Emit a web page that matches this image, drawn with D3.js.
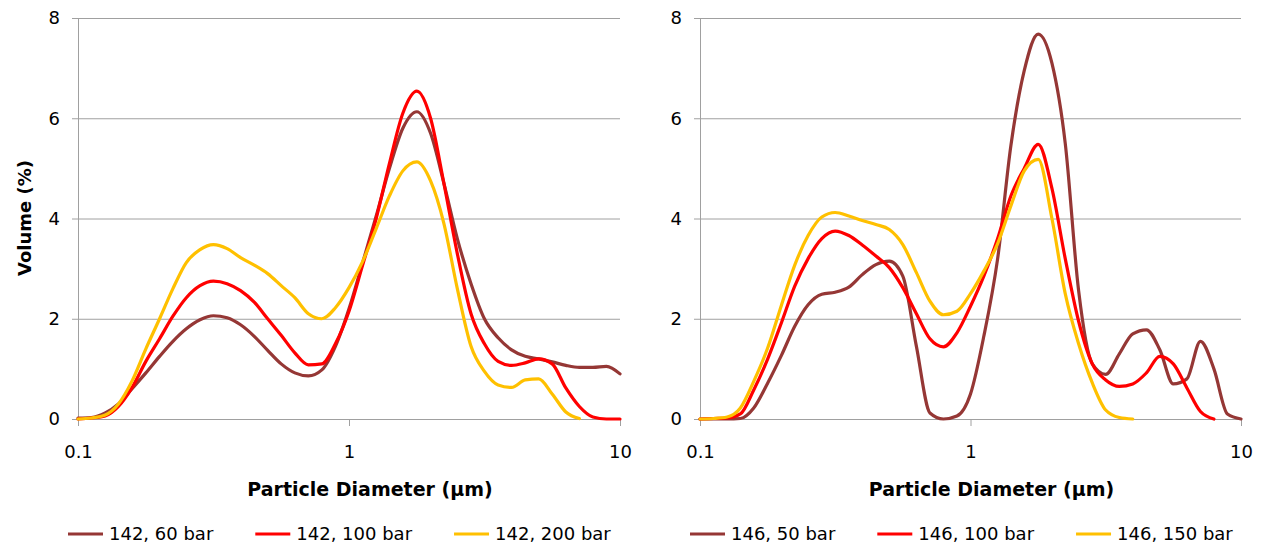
<!DOCTYPE html>
<html>
<head>
<meta charset="utf-8">
<script src="https://cdn.jsdelivr.net/npm/d3@7"></script>
<style>
    body { margin: 0; background: #fff; }
    svg text { font-family: "DejaVu Sans", sans-serif; fill: #000; }
</style>
</head>
<body>
<svg id="chart" width="1264" height="546"></svg>
<script>
// size bins (um), shared by both panels
const diameters = [0.1, 0.112, 0.126, 0.141, 0.158, 0.178, 0.2, 0.224, 0.251, 0.282,
    0.316, 0.355, 0.398, 0.447, 0.501, 0.562, 0.631, 0.708, 0.794, 0.891,
    1, 1.12, 1.26, 1.41, 1.58, 1.78, 2, 2.24, 2.51, 2.82,
    3.16, 3.55, 3.98, 4.47, 5.01, 5.62, 6.31, 7.08, 7.94, 8.91, 10];

const xTicks = [0.1, 1, 10];
const xTickLabels = ["0.1", "1", "10"];
const yTicks = [0, 2, 4, 6, 8];

// left panel: 142
const names142 = ["142, 60 bar", "142, 100 bar", "142, 200 bar"];
const vol142_60 = [0.02, 0.03, 0.12, 0.3, 0.6, 0.92, 1.25, 1.55, 1.8, 1.98,
    2.06, 2.02, 1.88, 1.65, 1.37, 1.1, 0.92, 0.86, 0.98, 1.45,
    2.2, 3.1, 4.05, 5.0, 5.8, 6.13, 5.7, 4.7, 3.6, 2.7,
    2.0, 1.62, 1.38, 1.25, 1.2, 1.14, 1.07, 1.03, 1.03, 1.05, 0.9];
const vol142_100 = [0, 0.02, 0.06, 0.25, 0.62, 1.15, 1.6, 2.05, 2.42, 2.66,
    2.75, 2.7, 2.56, 2.33, 2.0, 1.67, 1.32, 1.08, 1.1, 1.5,
    2.15, 3.05, 4.0, 5.1, 6.1, 6.54, 6.0, 4.7, 3.3, 2.1,
    1.5, 1.15, 1.07, 1.12, 1.2, 1.1, 0.62, 0.25, 0.04, 0, 0];
const vol142_200 = [0, 0.02, 0.08, 0.3, 0.75, 1.4, 2.0, 2.6, 3.12, 3.38,
    3.48, 3.4, 3.22, 3.07, 2.9, 2.66, 2.42, 2.1, 2.0, 2.22,
    2.62, 3.13, 3.8, 4.45, 4.95, 5.13, 4.75, 3.9, 2.6, 1.45,
    0.95, 0.68, 0.63, 0.78, 0.8, 0.5, 0.14, 0.01, null, null, null];

// right panel: 146
const names146 = ["146, 50 bar", "146, 100 bar", "146, 150 bar"];
const vol146_50 = [0, 0, 0, 0.01, 0.22, 0.72, 1.27, 1.85, 2.28, 2.49,
    2.53, 2.63, 2.88, 3.08, 3.15, 2.85, 1.45, 0.12, 0, 0.06,
    0.5, 1.65, 3.2, 5.45, 6.95, 7.68, 7.1, 5.5, 2.56, 1.1,
    0.89, 1.3, 1.7, 1.78, 1.38, 0.7, 0.8, 1.55, 1.0, 0.1, 0];
const vol146_100 = [0, 0.01, 0.02, 0.1, 0.58, 1.2, 1.92, 2.65, 3.2, 3.6,
    3.75, 3.66, 3.47, 3.25, 3.02, 2.62, 2.1, 1.6, 1.44, 1.72,
    2.25, 2.85, 3.6, 4.45, 5.0, 5.48, 4.6, 3.2, 1.95, 1.1,
    0.78, 0.65, 0.7, 0.92, 1.25, 1.1, 0.62, 0.15, 0, null, null];
const vol146_150 = [0, 0.01, 0.04, 0.22, 0.75, 1.42, 2.27, 3.07, 3.66, 4.03,
    4.12, 4.05, 3.96, 3.88, 3.78, 3.48, 2.92, 2.35, 2.08, 2.15,
    2.5, 2.95, 3.5, 4.25, 4.95, 5.18, 4.0, 2.5, 1.5, 0.72,
    0.18, 0.03, 0, null, null, null, null, null, null, null, null];

const colors = ["#953735", "#ff0000", "#ffc000"];
const gridColor = "#a0a0a0";

const svg = d3.select("#chart");

/** One of the two size distribution plots */
class Panel {
    /**
     * @param x0 left edge of the plot area
     * @param x1 right edge of the plot area
     * @param names legend labels
     * @param series the three volume arrays
     * @param yTitle show the y axis title or not
     */
    constructor(x0, x1, names, series, yTitle) {
        this.x0 = x0;
        this.x1 = x1;
        this.top = 18;
        this.bottom = 419;
        this.names = names;
        this.series = series;
        this.yTitle = yTitle;
        this.x = d3.scaleLog().domain([0.1, 10]).range([x0, x1]);
        this.y = d3.scaleLinear().domain([0, 8]).range([this.bottom, this.top]);
    }

    draw() {
        let g = svg.append("g");

        // gridlines
        g.append("g")
            .attr("transform", "translate(" + this.x0 + ",0)")
            .call(d3.axisLeft(this.y).tickValues(yTicks).tickSize(-(this.x1 - this.x0)).tickFormat(""))
            .call(a => a.select(".domain").remove())
            .selectAll("line").attr("stroke", gridColor);

        // y axis
        let ya = g.append("g")
            .attr("transform", "translate(" + this.x0 + ",0)")
            .call(d3.axisLeft(this.y).tickValues(yTicks).tickSize(6).tickSizeOuter(0).tickPadding(12));
        ya.selectAll("line").attr("stroke", gridColor);
        ya.select(".domain").attr("stroke", gridColor);
        ya.selectAll("text").style("font-size", "18px");

        // x axis
        let xa = g.append("g")
            .attr("transform", "translate(0," + this.bottom + ")")
            .call(d3.axisBottom(this.x).tickValues(xTicks).tickSize(7).tickSizeOuter(0).tickPadding(19)
                .tickFormat((d, i) => xTickLabels[i]));
        xa.selectAll("line").attr("stroke", gridColor);
        xa.select(".domain").attr("stroke", gridColor);
        xa.selectAll("text").style("font-size", "18px");

        // curves
        let line = d3.line()
            .defined(d => d[1] != null)
            .x(d => this.x(d[0]))
            .y(d => this.y(d[1]))
            .curve(d3.curveMonotoneX);

        this.series.forEach((vals, i) => {
            g.append("path")
                .datum(diameters.map((dm, j) => [dm, vals[j]]))
                .attr("d", line)
                .attr("fill", "none")
                .attr("stroke", colors[i])
                .attr("stroke-width", 3.2)
                .attr("stroke-linejoin", "round")
                .attr("stroke-linecap", "round");
        });

        // axis titles
        g.append("text")
            .attr("x", (this.x0 + this.x1) / 2 + 21)
            .attr("y", 496)
            .attr("text-anchor", "middle")
            .style("font-size", "19px")
            .style("font-weight", "bold")
            .text("Particle Diameter (\u03bcm)");

        if (this.yTitle) {
            g.append("text")
                .attr("transform", "translate(31,218) rotate(-90)")
                .attr("text-anchor", "middle")
                .style("font-size", "18px")
                .style("font-weight", "bold")
                .text("Volume (%)");
        }

        // legend
        let lx = this.x0 - 10;
        this.names.forEach((n, i) => {
            g.append("line")
                .attr("x1", lx).attr("x2", lx + 35)
                .attr("y1", 534).attr("y2", 534)
                .attr("stroke", colors[i])
                .attr("stroke-width", 3.2);
            let t = g.append("text")
                .attr("x", lx + 41)
                .attr("y", 540)
                .style("font-size", "18px")
                .text(n);
            lx += 41 + t.node().getComputedTextLength() + 42;
        });
    }
}

new Panel(78, 620, names142, [vol142_60, vol142_100, vol142_200], true).draw();
new Panel(700, 1241, names146, [vol146_50, vol146_100, vol146_150], false).draw();
</script>
</body>
</html>
